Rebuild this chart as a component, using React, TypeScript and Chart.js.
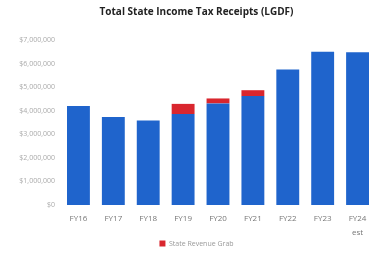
import React, { useEffect, useRef } from "react";
import { Chart, registerables } from "chart.js";

Chart.register(...registerables);

const categories: (string | string[])[] = ["FY16", "FY17", "FY18", "FY19", "FY20", "FY21", "FY22", "FY23", ["FY24", "est"]];
const baseReceipts = [4200000, 3730000, 3590000, 3860000, 4310000, 4620000, 5750000, 6500000, 6480000];
const revenueGrab = [0, 0, 0, 430000, 210000, 250000, 0, 0, 0];
const yTicks = [0, 1000000, 2000000, 3000000, 4000000, 5000000, 6000000, 7000000];

export default function App() {
  const ref = useRef<HTMLCanvasElement | null>(null);
  useEffect(() => {
    document.body.style.margin = "0";
    if (!ref.current) return;
    const chart = new Chart(ref.current, {
      type: "bar",
      data: {
        labels: categories,
        datasets: [
          {
            label: "Base",
            data: baseReceipts,
            backgroundColor: "#1f64cc",
            borderWidth: 0,
            barPercentage: 0.82,
            categoryPercentage: 0.8,
          },
          {
            label: "State Revenue Grab",
            data: revenueGrab,
            backgroundColor: "#d9262e",
            borderWidth: 0,
            barPercentage: 0.82,
            categoryPercentage: 0.8,
          },
        ],
      },
      options: {
        animation: false,
        responsive: false,
        layout: { padding: { left: 18, right: 0, top: 0, bottom: 1 } },
        plugins: {
          title: {
            display: true,
            text: "Total State Income Tax Receipts (LGDF)",
            color: "#222",
            font: { family: "Open Sans", size: 10, weight: "bold" },
            padding: { top: 6, bottom: 22 },
          },
          legend: {
            position: "bottom",
            labels: {
              filter: (item) => item.text === "State Revenue Grab",
              boxWidth: 6,
              boxHeight: 6,
              color: "#999",
              font: { family: "Open Sans", size: 7 },
              padding: 1,
            },
          },
          tooltip: { enabled: false },
        },
        scales: {
          x: {
            stacked: true,
            grid: { display: false, drawTicks: false },
            border: { display: false },
            afterFit: (s: any) => { s.height = 34; },
            ticks: {
              color: "#777",
              font: { family: "Open Sans", size: 8, lineHeight: 1.75 },
              maxRotation: 0,
              padding: 7,
            },
          },
          y: {
            stacked: true,
            min: 0,
            max: 7000000,
            afterFit: (s: any) => { s.width = 43; },
            afterBuildTicks: (s: any) => { s.ticks = yTicks.map((v) => ({ value: v })); },
            grid: { display: false, drawTicks: false },
            border: { display: false },
            ticks: {
              color: "#aaa",
              font: { family: "Open Sans", size: 7 },
              padding: 6,
              callback: (v: any) => "$" + Number(v).toLocaleString("en-US"),
            },
          },
        },
      },
    });
    return () => chart.destroy();
  }, []);
  return (
    <div style={{ width: 375, height: 258, background: "#fff" }}>
      <canvas ref={ref} width={375} height={258} />
    </div>
  );
}
